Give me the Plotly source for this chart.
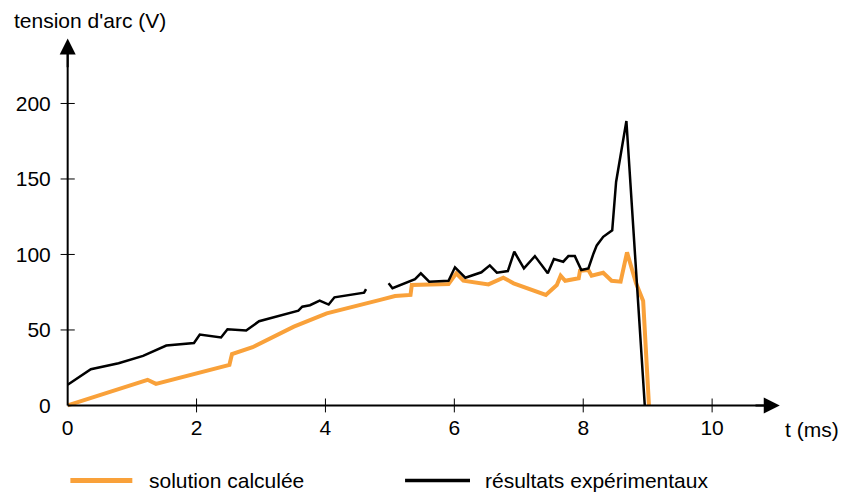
import plotly.graph_objects as go

# ---- data ----
calc_t = [0, 1.24, 1.37, 2.51, 2.55, 2.87, 3.51, 4.02, 4.85, 5.08, 5.32, 5.34, 5.91, 6.03,
          6.14, 6.53, 6.76, 6.92, 7.42, 7.59, 7.65, 7.72, 7.93, 7.95, 8.08, 8.13, 8.31,
          8.44, 8.58, 8.68, 8.82, 8.93, 9.02]
calc_v = [0, 17, 14.3, 26.9, 34, 38.6, 52.2, 61, 69.9, 72.5, 73.2, 79.8, 80.4, 87.5,
          82.6, 80.2, 84.6, 80.9, 73.2, 79.8, 85.9, 82.6, 84.2, 89.2, 89.7, 85.9, 87.9,
          82.6, 82, 101.4, 80.9, 69.2, 0]

exp_t = [0, 0.36, 0.79, 1.17, 1.53, 1.96, 2.05, 2.38, 2.48, 2.77, 2.97, 3.58, 3.64, 3.76,
         3.91, 4.05, 4.14, 4.6, 4.63, None, 4.98, 5.04, 5.39, 5.48, 5.61, 5.91, 6.01, 6.17,
         6.42, 6.55, 6.66, 6.83, 6.93, 7.08, 7.25, 7.45, 7.545, 7.69, 7.77, 7.87, 7.97,
         8.08, 8.16, 8.21, 8.31, 8.45, 8.51, 8.67, 8.955]
exp_v = [13.7, 24, 28, 32.8, 39.7, 41.4, 47, 45, 50.5, 49.6, 55.8, 62.8, 65.4, 66.4,
         69.4, 66.8, 71.6, 74.7, 77.1, None, 80.9, 77.6, 83.7, 87.5, 82, 82.6, 91.5, 84.6,
         88.2, 92.8, 87.9, 89, 101.8, 90.8, 98.9, 87.5, 97, 95.2, 98.9, 98.9, 89.7,
         90.8, 100.7, 106, 111.7, 116, 148, 188.4, 0]

x_ticks = [0, 2, 4, 6, 8, 10]
y_ticks = [0, 50, 100, 150, 200]

series_names = ["solution calculée", "résultats expérimentaux"]
x_title = "t (ms)"
y_title = "tension d'arc (V)"

# ---- style ----
ORANGE = "#F9A13A"
FONT = "Liberation Sans, Arial, sans-serif"
FS = 21
W, H = 855, 497
ML, MR, MT, MB = 57.6, 71.7, 30.5, 83.7
XR = [-0.15, 11.1]
YR = [-5, 248]
X_TIP, Y_TIP = 11.05, 243


def px_x(p):
    return (p - ML) / (W - ML - MR)


def px_y(p):
    return (H - MB - p) / (H - MB - MT)


fig = go.Figure()
fig.add_trace(go.Scatter(x=calc_t, y=calc_v, mode="lines", name=series_names[0],
                         line=dict(color=ORANGE, width=4), showlegend=False))
fig.add_trace(go.Scatter(x=exp_t, y=exp_v, mode="lines", name=series_names[1],
                         line=dict(color="black", width=2.5), showlegend=False,
                         connectgaps=False))

shapes = []
# axis lines
shapes.append(dict(type="line", xref="x", yref="y", x0=0, x1=X_TIP - 0.1, y0=0, y1=0,
                   line=dict(color="black", width=2)))
shapes.append(dict(type="line", xref="x", yref="y", x0=0, x1=0, y0=0, y1=Y_TIP - 5,
                   line=dict(color="black", width=2)))
# crossing ticks
for t in x_ticks[1:]:
    shapes.append(dict(type="line", xref="x", yref="y", x0=t, x1=t, y0=-4.6, y1=4.6,
                       line=dict(color="black", width=1)))
for v in y_ticks[1:]:
    shapes.append(dict(type="line", xref="x", yref="y", x0=-0.11, x1=0.11, y0=v, y1=v,
                       line=dict(color="black", width=1)))

# legend samples
leg_y = px_y(481)
shapes.append(dict(type="line", xref="paper", yref="paper", x0=px_x(70), x1=px_x(132),
                   y0=leg_y, y1=leg_y, line=dict(color=ORANGE, width=5)))
shapes.append(dict(type="line", xref="paper", yref="paper", x0=px_x(405), x1=px_x(470),
                   y0=leg_y, y1=leg_y, line=dict(color="black", width=3.5)))

annotations = [
    # arrowheads
    dict(x=X_TIP, y=0, ax=X_TIP - 0.4, ay=0, xref="x", yref="y", axref="x", ayref="y",
         showarrow=True, arrowhead=2, arrowsize=1.6, arrowwidth=2, arrowcolor="black", text=""),
    dict(x=0, y=Y_TIP, ax=0, ay=Y_TIP - 20, xref="x", yref="y", axref="x", ayref="y",
         showarrow=True, arrowhead=2, arrowsize=1.6, arrowwidth=2, arrowcolor="black", text=""),
    dict(x=px_x(12), y=px_y(20), xref="paper", yref="paper", text=y_title, showarrow=False,
         xanchor="left", yanchor="middle", font=dict(size=FS, color="black", family=FONT)),
    dict(x=px_x(783), y=px_y(430), xref="paper", yref="paper", text=x_title, showarrow=False,
         xanchor="left", yanchor="middle", font=dict(size=FS, color="black", family=FONT)),
    dict(x=px_x(147), y=leg_y, xref="paper", yref="paper", text=series_names[0], showarrow=False,
         xanchor="left", yanchor="middle", font=dict(size=FS, color="black", family=FONT)),
    dict(x=px_x(483), y=leg_y, xref="paper", yref="paper", text=series_names[1], showarrow=False,
         xanchor="left", yanchor="middle", font=dict(size=FS, color="black", family=FONT)),
]

fig.update_layout(
    template="none",
    width=W, height=H,
    margin=dict(l=ML, r=MR, t=MT, b=MB, pad=0, autoexpand=False),
    paper_bgcolor="white", plot_bgcolor="white",
    shapes=shapes, annotations=annotations,
    font=dict(family=FONT, size=FS, color="black"),
    xaxis=dict(range=XR, tickvals=x_ticks, showgrid=False, zeroline=False, showline=False,
               ticks="", automargin=False),
    yaxis=dict(range=YR, tickvals=y_ticks, showgrid=False, zeroline=False, showline=False,
               ticks="outside", ticklen=2, tickcolor="rgba(0,0,0,0)", automargin=False),
)

fig.write_html("out.html", config={"displayModeBar": False},
               post_script="document.body.style.margin='0';document.body.style.padding='0';")
